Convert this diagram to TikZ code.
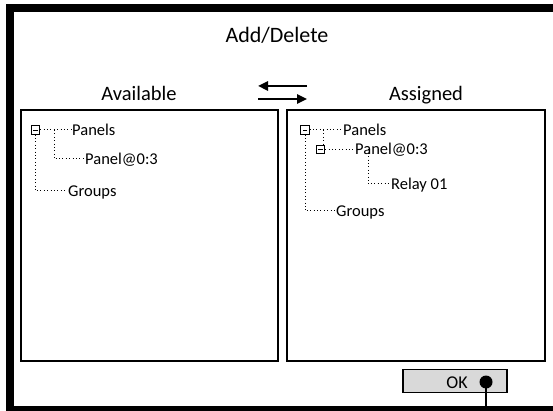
\documentclass[tikz,border=0pt]{standalone}
\usepackage{fontspec}
\setmainfont{Carlito}
\usetikzlibrary{arrows.meta}

\tikzset{
  frame/.style={line width=8pt, draw=black},
  listbox/.style={line width=2.2pt, draw=black},
  toggle/.style={draw=black, line width=0.8pt, minimum size=8.5pt, inner sep=0pt, fill=white},
  item/.style={anchor=base west, inner sep=0pt, font=\fontsize{16.5}{18}\selectfont},
  caption/.style={anchor=base, inner sep=0pt, font=\fontsize{20.5}{24}\selectfont},
  guide/.style={line width=1pt, dash pattern=on 1pt off 2.4pt},
  move/.style={line width=2.4pt, -{Triangle[length=10pt, width=9pt]}},
  okbtn/.style={draw=black, line width=1.5pt, fill=black!15, minimum width=104pt, minimum height=23pt, inner sep=0pt}
}

% a minus-sign toggle box of the tree
\newcommand{\treetoggle}[2]{%
  \node[toggle] (#1) at (#2) {};
  \draw[line width=0.8pt] ([xshift=-2.2pt]#1.center) -- ([xshift=2.2pt]#1.center);
}

\begin{document}
\begin{tikzpicture}[x=1pt, y=-1pt]
  \clip (0,0) rectangle (553,411);
  \useasboundingbox (0,0) rectangle (553,411);

  % dialog frame
  \draw[frame] (10,8) rectangle (556.5,410);

  % title
  \node[anchor=base, inner sep=0pt, font=\fontsize{22}{26}\selectfont] (title) at (277,42.5) {Add/Delete};

  % column captions
  \node[caption] (avail) at (139,100.5) {Available};
  \node[caption] (assign) at (426,100.5) {Assigned};

  % transfer arrows
  \coordinate (ta) at (307,86);
  \coordinate (tb) at (258,86);
  \coordinate (ba) at (258,99);
  \coordinate (bb) at (307,99);
  \draw[move] (ta) -- (tb);
  \draw[move] (ba) -- (bb);

  % list boxes
  \draw[listbox] (21,110) rectangle (278,361);
  \draw[listbox] (287,110) rectangle (545,361);

  % left tree
  \treetoggle{lt}{35.5,130}
  \node[item] (lpanels) at (72,135.5) {Panels};
  \node[item] (lpanel) at (85,164.5) {Panel@0:3};
  \node[item] (lgroups) at (68,196.5) {Groups};
  \coordinate (lj) at (54,130);
  \coordinate (lk) at (54,159);
  \coordinate (lm) at (35.5,191);
  \draw[guide] (lt.east) -- ([xshift=-1pt]lpanels.west |- lt.east);
  \draw[guide] (lj) -- (lk) -- ([xshift=-1pt]lpanel.west |- lk);
  \draw[guide] (lt.south) -- (lm) -- ([xshift=-1pt]lgroups.west |- lm);

  % right tree
  \treetoggle{rt}{305,130}
  \treetoggle{rs}{320.5,149.5}
  \node[item] (rpanels) at (343,135.5) {Panels};
  \node[item] (rpanel) at (355,155) {Panel@0:3};
  \node[item] (rrelay) at (391,189.5) {Relay 01};
  \node[item] (rgroups) at (336,216.5) {Groups};
  \coordinate (rj) at (323,130);
  \coordinate (rk) at (368,149.5);
  \coordinate (rl) at (368,184);
  \coordinate (rm) at (305,211);
  \draw[guide] (rt.east) -- ([xshift=-1pt]rpanels.west |- rt.east);
  \draw[guide] (rj) -- (rj |- rs.north);
  \draw[guide] (rs.east) -- ([xshift=-1pt]rpanel.west |- rs.east);
  \draw[guide] (rk) -- (rl) -- ([xshift=-1pt]rrelay.west |- rl);
  \draw[guide] (rt.south) -- (rm) -- ([xshift=-1pt]rgroups.west |- rm);

  % OK button with its callout
  \node[okbtn] (ok) at (455,381) {};
  \node[anchor=base, inner sep=0pt, font=\fontsize{18}{20}\selectfont] (oktext) at (457,388) {OK};
  \fill (486,382) circle (6.5pt);
  \coordinate (dot) at (486,382);
  \coordinate (foot) at (486,406);
  \draw[line width=2.2pt] (dot) -- (foot);
\end{tikzpicture}
\end{document}
